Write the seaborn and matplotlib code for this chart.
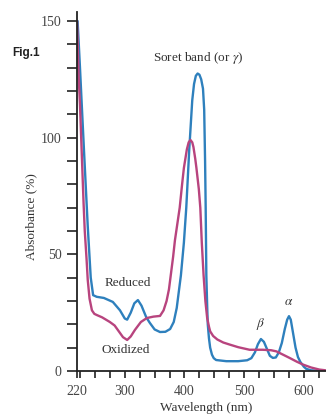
import pandas as pd
import matplotlib
matplotlib.use("Agg")
import matplotlib.pyplot as plt
import seaborn as sns

# --- spectrum data (wavelength nm, absorbance %) ---
reduced_nm = [221, 225, 228, 232, 238, 243, 247, 253, 265, 280, 292, 300, 304, 310, 316,
              322, 328, 336, 342, 350, 359, 368, 376, 382, 387, 394, 399, 403, 408, 413,
              416, 419, 422, 425, 428, 431, 433, 434.5, 435.5, 436.6, 438, 439, 441, 443,
              446, 449, 453, 470, 490, 505, 512, 518, 523, 528, 533, 538, 543, 548, 553,
              558, 563, 568, 572, 575, 578, 582, 586, 590, 594, 600, 604, 612, 625, 636]
reduced_abs = [150, 130, 114, 93, 62, 40, 32.5, 31.8, 31.3, 29.6, 26, 22.5, 22, 25, 29,
               30.4, 28, 23, 20.6, 17.8, 16.7, 16.8, 18, 21, 27, 41, 55, 70, 95, 116,
               123, 126.5, 127.5, 127, 125, 121, 112, 90, 70, 41, 28, 20, 14, 10,
               7, 5.5, 4.7, 4.2, 4.2, 4.6, 5.5, 8, 11.5, 13.7, 12.5, 9.5, 6.5, 5.6, 5.8,
               8, 12, 18, 22, 23.5, 22, 16, 10, 6, 3.9, 1.8, 0.9, 0.3, 0.1, 0]

oxidized_nm = [220, 223, 225, 228, 231, 233, 236, 238, 241, 245, 249, 253, 262, 275, 283,
               290, 297, 304, 310, 317, 327, 337, 348, 359, 365, 370, 374, 377, 381, 384,
               388, 392, 396, 399, 404, 407, 410, 413, 415, 418, 420, 424, 426.5, 429, 432,
               435, 438, 441, 443, 448, 455, 465, 476, 490, 509, 531, 545, 554, 565, 576,
               588, 599, 612, 626, 636]
oxidized_abs = [150, 125, 114, 93, 72, 60, 48, 39, 31, 26, 24.5, 24, 23, 21, 19.5,
                17, 14.5, 13.3, 14.8, 17.6, 21, 22.7, 23.3, 23.6, 26, 30, 35, 41, 49, 56,
                63, 70, 80, 87, 95, 98, 99, 98, 96, 91, 87, 78, 70, 55, 41,
                30, 22.7, 19, 17, 15, 13.5, 12.2, 11.3, 10.2, 9.1, 9.1, 8.9, 8.4, 7, 5.6,
                4, 2.7, 1.5, 0.6, 0.3]

x_ticks = [220, 300, 400, 500, 600]
x_tick_labels = ["220", "300", "400", "500", "600"]
y_ticks = [0, 50, 100, 150]

df = pd.concat([
    pd.DataFrame({"wavelength": reduced_nm, "absorbance": reduced_abs, "state": "Reduced"}),
    pd.DataFrame({"wavelength": oxidized_nm, "absorbance": oxidized_abs, "state": "Oxidized"}),
])

sns.set_style("ticks")
plt.rcParams["font.family"] = ["Liberation Serif", "DejaVu Serif"]
plt.rcParams["mathtext.fontset"] = "stix"

fig = plt.figure(figsize=(3.26, 4.16), dpi=100)
ax = fig.add_axes([0.2362, 0.1082, 0.7638, 0.8637])

sns.lineplot(data=df, x="wavelength", y="absorbance", hue="state", sort=False,
             estimator=None, palette={"Reduced": "#2e80bd", "Oxidized": "#b8447e"},
             linewidth=1.7, legend=False, ax=ax)

ax.set_xlim(220, 637)
ax.set_ylim(0, 154)
ax.set_xticks(x_ticks)
ax.set_xticklabels(x_tick_labels)
ax.set_xticks(range(225, 637, 25), minor=True)
ax.set_yticks(y_ticks)
ax.set_yticks(range(0, 151, 10), minor=True)

sns.despine(ax=ax)
for s in ["left", "bottom"]:
    ax.spines[s].set_linewidth(1.3)
    ax.spines[s].set_color("#222222")
ax.tick_params(axis="both", which="both", color="#222222", width=1.2,
               labelsize=10, labelcolor="#444444")
ax.tick_params(axis="y", which="both", length=7, pad=4)
ax.tick_params(axis="x", which="both", length=5, pad=5)

ax.set_xlabel("Wavelength (nm)", fontsize=9.5, color="#333333")
ax.set_ylabel("Absorbance (%)", fontsize=9.5, color="#333333")
ax.xaxis.set_label_coords(0.52, -0.085)
ax.yaxis.set_label_coords(-0.16, 0.43)

txt = dict(fontsize=9.5, color="#333333", ha="center", va="center")
ax.text(423, 134, r"Soret band (or $\gamma$)", **txt)
ax.text(305, 37.5, "Reduced", **txt)
ax.text(302, 9, "Oxidized", **txt)
ax.text(527, 20, r"$\beta$", **txt)
ax.text(575, 29.5, r"$\alpha$", **txt)

fig.text(26 / 326, 1 - 53 / 416, "Fig.1", fontsize=8.5, fontweight="bold",
         family=["Liberation Sans", "DejaVu Sans"], color="#222222",
         ha="center", va="center")

fig.savefig("out.png", dpi=100)
